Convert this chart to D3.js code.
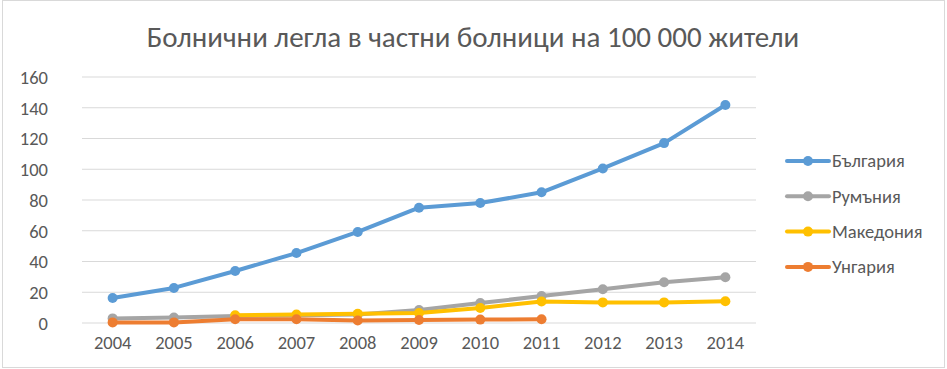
<!DOCTYPE html>
<html>
<head>
<meta charset="utf-8">
<script src="https://cdn.jsdelivr.net/npm/d3@7"></script>
<style>
  body { margin: 0; background: #fff; }
  text { font-family: Calibri, Carlito, "Liberation Sans", Arial, sans-serif; fill: #595959; }
</style>
</head>
<body>
<div id="chart-area"></div>
<script>
// Data
const years = [2004, 2005, 2006, 2007, 2008, 2009, 2010, 2011, 2012, 2013, 2014];
const bulgaria  = [16.3, 22.8, 33.8, 45.5, 59.2, 75, 78, 85, 100.5, 117, 141.8];
const romania   = [3, 3.5, 4.5, 5, 5.5, 8.5, 13, 17.5, 22, 26.5, 29.7];
const macedonia = [null, null, 5, 5.5, 6, 6.5, 9.8, 14, 13.4, 13.4, 14.2];
const hungary   = [0.4, 0.4, 2.4, 2.4, 1.6, 2, 2.2, 2.4, null, null, null];
const seriesNames = ["България", "Румъния", "Македония", "Унгария"];
const seriesColors = ["#5B9BD5", "#A5A5A5", "#FFC000", "#ED7D31"];
const yTicks = [0, 20, 40, 60, 80, 100, 120, 140, 160];
const chartTitle = "Болнични легла в частни болници на 100 000 жители";

const width = 947, height = 369;
const margin = {left: 82, right: 191, top: 77, bottom: 46};
const labelSize = 18.5;

const svg = d3.select("#chart-area")
    .append("svg")
    .attr("width", width)
    .attr("height", height);

// chart border
svg.append("rect")
    .attr("x", 2.5).attr("y", 0.5)
    .attr("width", width - 5).attr("height", height - 2)
    .attr("fill", "#fff")
    .attr("stroke", "#D9D9D9");

const x = d3.scaleBand()
    .domain(years)
    .range([margin.left, width - margin.right]);

const y = d3.scaleLinear()
    .domain([0, 160])
    .range([height - margin.bottom, margin.top]);

// gridlines
svg.append("g")
    .selectAll("line")
    .data(yTicks)
    .enter()
    .append("line")
    .attr("x1", margin.left)
    .attr("x2", width - margin.right)
    .attr("y1", d => y(d))
    .attr("y2", d => y(d))
    .attr("stroke", "#D9D9D9")
    .attr("stroke-width", 1);

// y axis labels
const yAxis = svg.append("g")
    .attr("transform", `translate(${margin.left - 34},0)`)
    .call(d3.axisLeft(y).tickValues(yTicks).tickSize(0).tickPadding(0));
yAxis.select(".domain").remove();
yAxis.selectAll("text")
    .style("font-size", labelSize + "px")
    .attr("fill", "#595959")
    .attr("dy", "0.35em");

// x axis labels
const xAxis = svg.append("g")
    .attr("transform", `translate(0,${height - margin.bottom})`)
    .call(d3.axisBottom(x).tickSize(0).tickPadding(13));
xAxis.select(".domain").remove();
xAxis.selectAll("text")
    .style("font-size", labelSize + "px")
    .attr("fill", "#595959");

const allSeries = [bulgaria, romania, macedonia, hungary];
const cx = (d, i) => x(years[i]) + x.bandwidth() / 2;

const line = d3.line()
    .defined(d => d != null)
    .x(cx)
    .y(d => y(d));

// draw order: Romania, Macedonia, Hungary, Bulgaria on top
const drawOrder = [1, 2, 3, 0];
drawOrder.forEach(k => {
    const g = svg.append("g");
    g.append("path")
        .datum(allSeries[k])
        .attr("d", line)
        .attr("fill", "none")
        .attr("stroke", seriesColors[k])
        .attr("stroke-width", 4)
        .attr("stroke-linejoin", "round")
        .attr("stroke-linecap", "round");
    g.selectAll("circle")
        .data(allSeries[k].map((v, i) => ({v, i})).filter(d => d.v != null))
        .enter()
        .append("circle")
        .attr("cx", d => cx(d.v, d.i))
        .attr("cy", d => y(d.v))
        .attr("r", 5)
        .attr("fill", seriesColors[k]);
});

// legend
const legend = svg.append("g");
seriesNames.forEach((name, k) => {
    const ly = 161 + k * 35.3;
    legend.append("line")
        .attr("x1", 787).attr("x2", 829)
        .attr("y1", ly).attr("y2", ly)
        .attr("stroke", seriesColors[k])
        .attr("stroke-width", 4)
        .attr("stroke-linecap", "round");
    legend.append("circle")
        .attr("cx", 808).attr("cy", ly).attr("r", 5)
        .attr("fill", seriesColors[k]);
    legend.append("text")
        .attr("x", 832).attr("y", ly)
        .attr("dy", "0.35em")
        .style("font-size", labelSize + "px")
        .text(name);
});

// title
const title = svg.append("text")
    .attr("x", 473)
    .attr("y", 47)
    .attr("text-anchor", "middle")
    .style("font-size", "24px")
    .text(chartTitle);
const tw = title.node().getComputedTextLength();
title.style("font-size", (24 * 653 / tw) + "px");
</script>
</body>
</html>
